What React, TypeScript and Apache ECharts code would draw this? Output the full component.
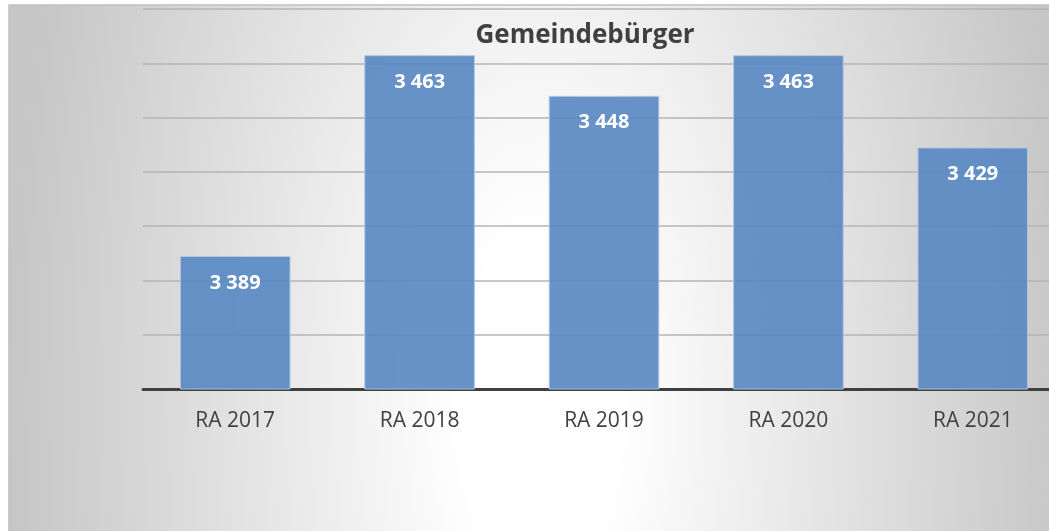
import React, { useEffect, useRef } from "react";
import * as echarts from "echarts";

const categories = ["RA 2017", "RA 2018", "RA 2019", "RA 2020", "RA 2021"];
const values = [3389, 3463, 3448, 3463, 3429];
const yMin = 3340;
const yMax = 3480;
const yInterval = 20;
const title = "Gemeindebürger";

export default function App() {
  const ref = useRef<HTMLDivElement>(null);
  useEffect(() => {
    if (!ref.current) return;
    const chart = echarts.init(ref.current, undefined, { renderer: "svg" });
    chart.setOption({
      animation: false,
      graphic: [
        {
          type: "rect",
          z: -10,
          silent: true,
          shape: { x: 9, y: 5, width: 1062, height: 2200 },
          style: {
            fill: {
              type: "radial",
              x: 0.5,
              y: 0.18,
              r: 0.5,
              colorStops: [
                { offset: 0, color: "#ffffff" },
                { offset: 0.15, color: "#ffffff" },
                { offset: 1, color: "#c6c6c6" },
              ],
            },
            stroke: "#c0c0c0",
            lineWidth: 1.5,
          },
        },
      ],
      title: {
        text: title,
        left: 580,
        top: 15,
        textAlign: "center",
        textStyle: {
          fontFamily: "Open Sans",
          fontWeight: "bold",
          fontSize: 26,
          color: "#404040",
        },
      },
      grid: { left: 143, right: 15, top: 9, bottom: 142 },
      xAxis: {
        type: "category",
        data: categories,
        axisTick: { show: false },
        axisLine: { lineStyle: { color: "#404040", width: 3 } },
        axisLabel: {
          fontFamily: "Open Sans",
          fontSize: 21,
          color: "#404040",
          margin: 19,
        },
      },
      yAxis: {
        type: "value",
        min: yMin,
        max: yMax,
        interval: yInterval,
        axisLabel: { show: false },
        axisLine: { show: false },
        axisTick: { show: false },
        splitLine: { lineStyle: { color: "#b4b4b4", width: 1.5 } },
      },
      series: [
        {
          type: "bar",
          data: values,
          barWidth: "60%",
          itemStyle: {
            color: "rgba(88,135,195,0.9)",
            borderColor: "#b3c8e3",
            borderWidth: 1,
          },
          label: {
            show: true,
            position: "insideTop",
            distance: 15,
            formatter: (p: any) => {
              const s = String(p.value);
              return s.slice(0, s.length - 3) + " " + s.slice(-3);
            },
            fontFamily: "Open Sans",
            fontWeight: "bold",
            fontSize: 20,
            color: "#ffffff",
          },
        },
      ],
    });
    return () => chart.dispose();
  }, []);
  return (
    <div
      style={{
        position: "fixed",
        left: 0,
        top: 0,
        width: 1049,
        height: 531,
        overflow: "hidden",
      }}
    >
      <div ref={ref} style={{ width: 1080, height: 531 }} />
    </div>
  );
}
